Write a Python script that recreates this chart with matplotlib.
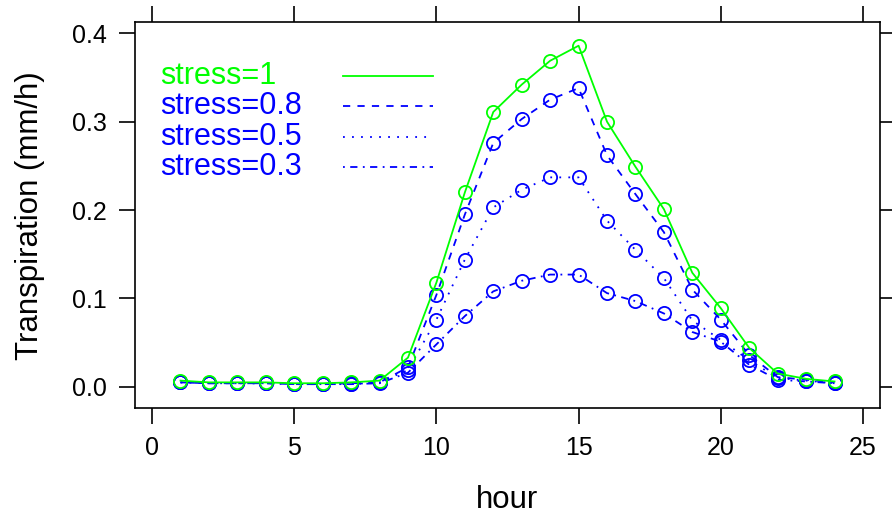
import matplotlib
matplotlib.use('Agg')
import matplotlib.pyplot as plt

plt.rcParams['font.family'] = ['Liberation Sans', 'DejaVu Sans']

# Hourly transpiration (mm/h) for each stress level
hour = list(range(1, 25))
stress_1 = [0.007, 0.005, 0.005, 0.005, 0.004, 0.004, 0.005, 0.007, 0.033, 0.118, 0.220, 0.311,
            0.342, 0.369, 0.386, 0.300, 0.249, 0.201, 0.129, 0.089, 0.044, 0.015, 0.009, 0.006]
stress_08 = [0.005, 0.004, 0.004, 0.004, 0.003, 0.003, 0.004, 0.005, 0.022, 0.104, 0.195, 0.276,
             0.303, 0.325, 0.338, 0.262, 0.218, 0.175, 0.110, 0.076, 0.036, 0.011, 0.008, 0.005]
stress_05 = [0.005, 0.004, 0.004, 0.004, 0.003, 0.003, 0.003, 0.005, 0.019, 0.076, 0.144, 0.203,
             0.223, 0.237, 0.237, 0.188, 0.155, 0.123, 0.075, 0.053, 0.030, 0.010, 0.007, 0.004]
stress_03 = [0.005, 0.004, 0.004, 0.004, 0.003, 0.003, 0.003, 0.004, 0.016, 0.048, 0.080, 0.108,
             0.120, 0.127, 0.127, 0.106, 0.097, 0.083, 0.062, 0.051, 0.025, 0.008, 0.006, 0.004]

labels = ['stress=1', 'stress=0.8', 'stress=0.5', 'stress=0.3']
series = [stress_1, stress_08, stress_05, stress_03]
colors = ['#00FF00', '#0000FF', '#0000FF', '#0000FF']
styles = ['-', (0, (4, 4)), (0, (1, 4)), (0, (1, 3, 4, 3))]

fig = plt.figure(figsize=(8.92, 5.2), dpi=100)
ax = fig.add_axes([135 / 892, 1 - 408 / 520, 745 / 892, 385.7 / 520])

lw = 1.3
# draw blue series first so the green one sits on top
for i in [3, 2, 1, 0]:
    ax.plot(hour, series[i], color=colors[i], linestyle=styles[i], linewidth=lw,
            marker='o', markersize=9.5, markerfacecolor='none', markeredgewidth=lw)

ax.set_xlim(-0.6, 25.6)
ax.set_ylim(-0.024, 0.4125)
ax.set_xticks([0, 5, 10, 15, 20, 25])
ax.set_yticks([0.0, 0.1, 0.2, 0.3, 0.4])
ax.set_yticklabels(['0.0', '0.1', '0.2', '0.3', '0.4'])

for s in ax.spines.values():
    s.set_linewidth(1.2)
ax.tick_params(direction='out', length=11.5, width=1.2, labelsize=18, pad=9,
               top=True, right=True, labeltop=False, labelright=False)

ax.set_xlabel('hour', fontsize=22.5, labelpad=18)
ax.set_ylabel('Transpiration (mm/h)', fontsize=22.5, labelpad=19)

# lattice-style key: text on the left, line sample on the right
key_y = [0.861, 0.782, 0.703, 0.624]
for i in range(4):
    ax.text(0.0336, key_y[i], labels[i], color=colors[i], fontsize=22,
            transform=ax.transAxes, ha='left', va='center')
    ax.plot([0.279, 0.400], [key_y[i], key_y[i]], color=colors[i], linestyle=styles[i],
            linewidth=lw, transform=ax.transAxes)

fig.savefig('out.png', dpi=100)
